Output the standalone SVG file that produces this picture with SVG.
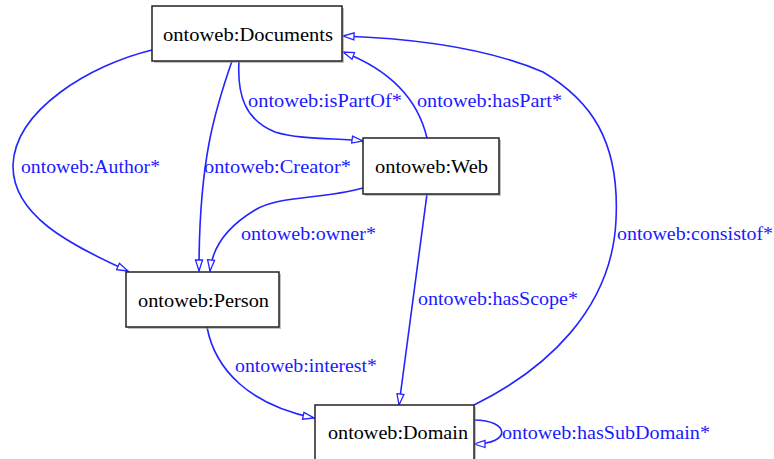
<svg xmlns="http://www.w3.org/2000/svg" width="774" height="459" viewBox="0 0 774 459">
<style>
.box{fill:#ffffff;stroke:#222222;stroke-width:1.5}
.shadow{fill:#999999;stroke:none;opacity:0.6}
.nt{font-family:"Times New Roman","Liberation Serif","DejaVu Serif",Tinos,"Noto Serif",serif;font-size:19px;fill:#000000}
.el{fill:none;stroke:#2424ff;stroke-width:1.6}
.lt{font-family:"Times New Roman","Liberation Serif","DejaVu Serif",Tinos,"Noto Serif",serif;font-size:18px;fill:#1a1aff}
</style>
<defs>
<marker id="arr" markerUnits="userSpaceOnUse" markerWidth="13" markerHeight="10" refX="12" refY="4.5" orient="auto" viewBox="0 0 13 9">
<path d="M1,1 L12,4.5 L1,8 z" fill="#ffffff" stroke="#2424ff" stroke-width="1.3"/>
</marker>
</defs>
<rect width="774" height="459" fill="#ffffff"/>
<g id="connectors">
<path class="el" marker-end="url(#arr)" d="M152,50 C90,65 15,110 13,165 C12,215 70,245 128,271"/>
<path class="el" marker-end="url(#arr)" d="M232,61 C215,110 199,160 199,271"/>
<path class="el" marker-end="url(#arr)" d="M239,61 C237,95 245,120 275,132 C300,140 340,138 363,141"/>
<path class="el" marker-end="url(#arr)" d="M427,138 C418,100 390,70 343,52"/>
<path class="el" marker-end="url(#arr)" d="M474,405 C545,370 612,310 616,220 C620,140 590,100 543,72 C480,45 400,38 343,36"/>
<path class="el" marker-end="url(#arr)" d="M363,188 C320,200 280,195 255,210 C225,228 212,250 210,271"/>
<path class="el" marker-end="url(#arr)" d="M427,194 L399,405"/>
<path class="el" marker-end="url(#arr)" d="M207,327 C215,370 250,405 314,418"/>
<path class="el" marker-end="url(#arr)" d="M474,420 C510,420 512,444 474,444"/>
<text class="lt" x="21" y="173" textLength="139" lengthAdjust="spacingAndGlyphs">ontoweb:Author*</text>
<text class="lt" x="204" y="173" textLength="147" lengthAdjust="spacingAndGlyphs">ontoweb:Creator*</text>
<text class="lt" x="248" y="107" textLength="154" lengthAdjust="spacingAndGlyphs">ontoweb:isPartOf*</text>
<text class="lt" x="417" y="107" textLength="145" lengthAdjust="spacingAndGlyphs">ontoweb:hasPart*</text>
<text class="lt" x="241" y="240" textLength="135" lengthAdjust="spacingAndGlyphs">ontoweb:owner*</text>
<text class="lt" x="617" y="240" textLength="156" lengthAdjust="spacingAndGlyphs">ontoweb:consistof*</text>
<text class="lt" x="418" y="305" textLength="160" lengthAdjust="spacingAndGlyphs">ontoweb:hasScope*</text>
<text class="lt" x="235" y="372" textLength="142" lengthAdjust="spacingAndGlyphs">ontoweb:interest*</text>
<text class="lt" x="502" y="439" textLength="208" lengthAdjust="spacingAndGlyphs">ontoweb:hasSubDomain*</text>
</g>
<g id="documents">
<rect class="shadow" x="154" y="8" width="190" height="55"/>
<rect class="box" x="152" y="6" width="190" height="55"/>
<text class="nt" x="163" y="41" textLength="170" lengthAdjust="spacingAndGlyphs">ontoweb:Documents</text>
</g>
<g id="web">
<rect class="shadow" x="365" y="140" width="136" height="56"/>
<rect class="box" x="363" y="138" width="136" height="56"/>
<text class="nt" x="375" y="173" textLength="113" lengthAdjust="spacingAndGlyphs">ontoweb:Web</text>
</g>
<g id="person">
<rect class="shadow" x="128" y="274" width="153" height="55"/>
<rect class="box" x="126" y="272" width="153" height="55"/>
<text class="nt" x="138" y="307" textLength="131" lengthAdjust="spacingAndGlyphs">ontoweb:Person</text>
</g>
<g id="domain">
<rect class="shadow" x="317" y="407" width="159" height="56"/>
<rect class="box" x="315" y="405" width="159" height="56"/>
<text class="nt" x="328" y="439" textLength="140" lengthAdjust="spacingAndGlyphs">ontoweb:Domain</text>
</g>
</svg>
